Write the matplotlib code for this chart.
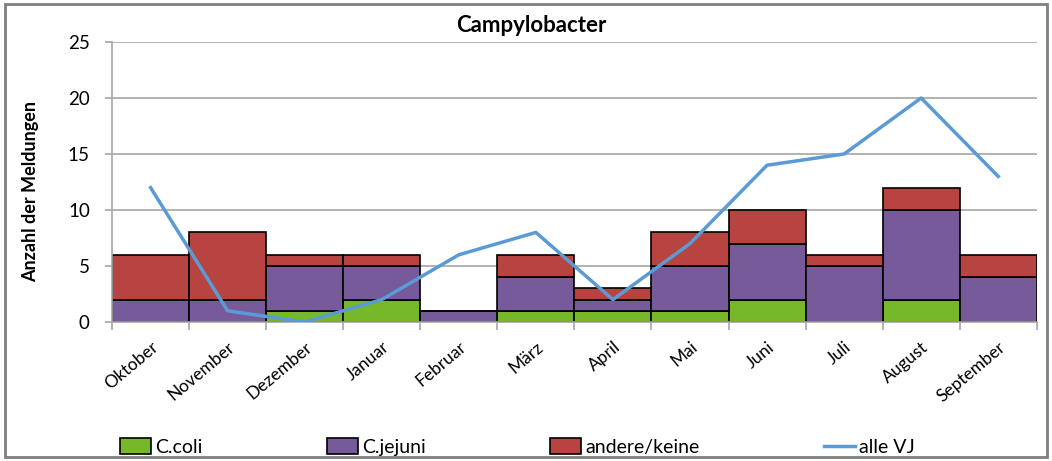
import numpy as np
import matplotlib
matplotlib.use("Agg")
import matplotlib.pyplot as plt
from matplotlib.patches import Patch, Rectangle
from matplotlib.lines import Line2D

plt.rcParams['font.family'] = ['Lato', 'DejaVu Sans']

months = ["Oktober", "November", "Dezember", "Januar", "Februar", "März",
          "April", "Mai", "Juni", "Juli", "August", "September"]
c_coli = [0, 0, 1, 2, 0, 1, 1, 1, 2, 0, 2, 0]
c_jejuni = [2, 2, 4, 3, 1, 3, 1, 4, 5, 5, 8, 4]
andere = [4, 6, 1, 1, 0, 2, 1, 3, 3, 1, 2, 2]
alle_vj = [12, 1, 0, 2, 6, 8, 2, 7, 14, 15, 20, 13]

green = "#76B82A"
purple = "#775A99"
red = "#B84441"
blue = "#5B9BD5"
grid_gray = "#A6A6A6"

fig = plt.figure(figsize=(10.52, 4.61), dpi=100)
ax = fig.add_axes([0.1065, 0.3015, 0.879, 0.6074])

x = np.arange(len(months))
coli = np.array(c_coli)
jej = np.array(c_jejuni)
and_ = np.array(andere)

ax.bar(x, coli, width=1.0, color=green, edgecolor="black", linewidth=1.2, zorder=2)
ax.bar(x, jej, width=1.0, bottom=coli, color=purple, edgecolor="black", linewidth=1.2, zorder=2)
ax.bar(x, and_, width=1.0, bottom=coli + jej, color=red, edgecolor="black", linewidth=1.2, zorder=2)
ax.plot(x, alle_vj, color=blue, linewidth=2.5, zorder=3)

ax.set_xlim(-0.5, len(months) - 0.5)
ax.set_ylim(0, 25)
ax.set_yticks([0, 5, 10, 15, 20, 25])
ax.yaxis.grid(True, color=grid_gray, linewidth=1.2, zorder=0)
ax.set_axisbelow(True)

ax.set_xticks(x)
ax.set_xticklabels(months, rotation=40, ha="right", rotation_mode="anchor", fontsize=12.5)
ax.set_xticks(np.arange(-0.5, len(months), 1.0), minor=True)
ax.tick_params(axis="x", which="major", length=0, pad=12)
ax.tick_params(axis="x", which="minor", length=6, color=grid_gray, width=1.2)
ax.tick_params(axis="y", length=5, color=grid_gray, width=1.2, labelsize=13.5, pad=11)

for s in ["top", "right"]:
    ax.spines[s].set_visible(False)
for s in ["left", "bottom"]:
    ax.spines[s].set_color(grid_gray)
    ax.spines[s].set_linewidth(1.2)

fig.text(0.505, 0.945, "Campylobacter", fontsize=16, fontweight="bold",
         ha="center", va="center")
fig.text(0.029, 0.585, "Anzahl der Meldungen", fontsize=13, fontweight="bold",
         rotation=90, ha="center", va="center")

handles = [Patch(facecolor=green, edgecolor="black", linewidth=1.2),
           Patch(facecolor=purple, edgecolor="black", linewidth=1.2),
           Patch(facecolor=red, edgecolor="black", linewidth=1.2),
           Line2D([], [], color=blue, linewidth=2.5)]
labels = ["C.coli", "C.jejuni", "andere/keine", "alle VJ"]
fig.legend(handles, labels, loc="center left", bbox_to_anchor=(0.0975, 0.03),
           ncol=4, frameon=False, fontsize=14, columnspacing=6.4,
           handlelength=1.6, handletextpad=0.2, handleheight=0.9)

fig.patches.append(Rectangle((0.005, 0.008), 0.99, 0.984, transform=fig.transFigure,
                             fill=False, edgecolor="#7F7F7F", linewidth=2))

fig.savefig("out.png", dpi=100)
